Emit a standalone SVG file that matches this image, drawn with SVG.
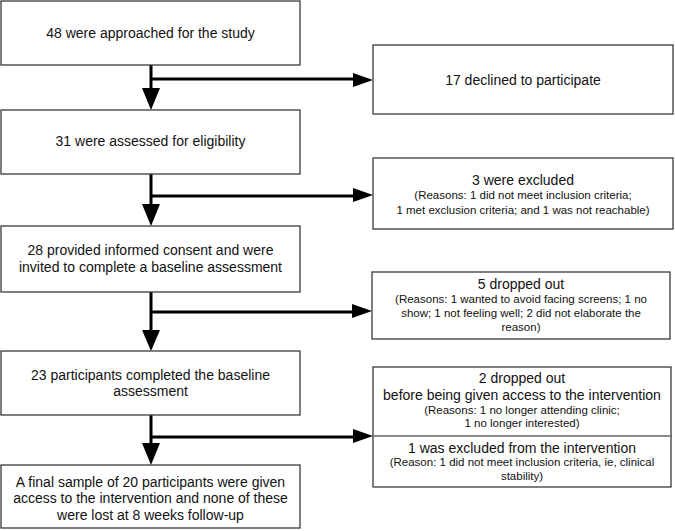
<svg xmlns="http://www.w3.org/2000/svg" width="675" height="531" viewBox="0 0 675 531">
<style>
.box{fill:#fff;stroke:#3a3a3a;stroke-width:1.3}
.div{stroke:#999;stroke-width:1.3}
.t{font-family:"Liberation Sans",Arial,sans-serif;font-size:14px;fill:#111;text-anchor:middle}
.s{font-family:"Liberation Sans",Arial,sans-serif;font-size:11.5px;fill:#111;text-anchor:middle}
.ln{stroke:#000;stroke-width:3;fill:none}
.ah{fill:#000}
</style>
<rect width="675" height="531" fill="#fff"/>
<g id="connectors">
<path class="ln" d="M151,65 V90 M151,79 H355"/>
<polygon class="ah" points="142,88 160,88 151,110"/>
<polygon class="ah" points="353,73 373,80 353,87"/>
<path class="ln" d="M151,174 V206 M151,196 H355"/>
<polygon class="ah" points="142,204 160,204 151,226"/>
<polygon class="ah" points="353,188 373,195 353,202"/>
<path class="ln" d="M151,292 V332 M151,312 H354"/>
<polygon class="ah" points="142,330 160,330 151,351"/>
<polygon class="ah" points="352,304 372,311 352,318"/>
<path class="ln" d="M151,415 V445 M151,437 H355"/>
<polygon class="ah" points="142,443 160,443 151,465"/>
<polygon class="ah" points="353,429 373,436 353,443"/>
</g>
<g id="n1"><rect class="box" x="1" y="1" width="299" height="64"/><text class="t" x="150.5" y="38">48 were approached for the study</text></g>
<g id="n2"><rect class="box" x="373" y="45" width="300" height="69"/><text class="t" x="523" y="85">17 declined to participate</text></g>
<g id="n3"><rect class="box" x="1" y="110" width="299" height="64"/><text class="t" x="150.5" y="146">31 were assessed for eligibility</text></g>
<g id="n4"><rect class="box" x="373" y="158" width="300" height="71"/><text class="t" x="523" y="185">3 were excluded</text><text class="s" x="523" y="199">(Reasons: 1 did not meet inclusion criteria;</text><text class="s" x="523" y="214">1 met exclusion criteria; and 1 was not reachable)</text></g>
<g id="n5"><rect class="box" x="1" y="226" width="299" height="66"/><text class="t" x="150.5" y="255">28 provided informed consent and were</text><text class="t" x="150.5" y="272">invited to complete a baseline assessment</text></g>
<g id="n6"><rect class="box" x="372" y="272" width="298" height="67"/><text class="t" x="521" y="289">5 dropped out</text><text class="s" x="521" y="303">(Reasons: 1 wanted to avoid facing screens; 1 no</text><text class="s" x="521" y="317">show; 1 not feeling well; 2 did not elaborate the</text><text class="s" x="521" y="331">reason)</text></g>
<g id="n7"><rect class="box" x="1" y="351" width="299" height="64"/><text class="t" x="150.5" y="380">23 participants completed the baseline</text><text class="t" x="150.5" y="396">assessment</text></g>
<g id="n8"><rect class="box" x="373" y="367" width="298" height="69"/><text class="t" x="522" y="383">2 dropped out</text><text class="t" x="522" y="400">before being given access to the intervention</text><text class="s" x="522" y="414">(Reasons: 1 no longer attending clinic;</text><text class="s" x="522" y="427">1 no longer interested)</text></g>
<g id="n9"><rect class="box" x="373" y="436" width="298" height="51"/><line class="div" x1="373" y1="436" x2="671" y2="436"/><text class="t" x="522" y="453">1 was excluded from the intervention</text><text class="s" x="522" y="466">(Reason: 1 did not meet inclusion criteria, ie, clinical</text><text class="s" x="522" y="480">stability)</text></g>
<g id="n10"><rect class="box" x="1" y="465" width="299" height="63"/><text class="t" x="150.5" y="487">A final sample of 20 participants were given</text><text class="t" x="150.5" y="503">access to the intervention and none of these</text><text class="t" x="150.5" y="520">were lost at 8 weeks follow-up</text></g>
</svg>
